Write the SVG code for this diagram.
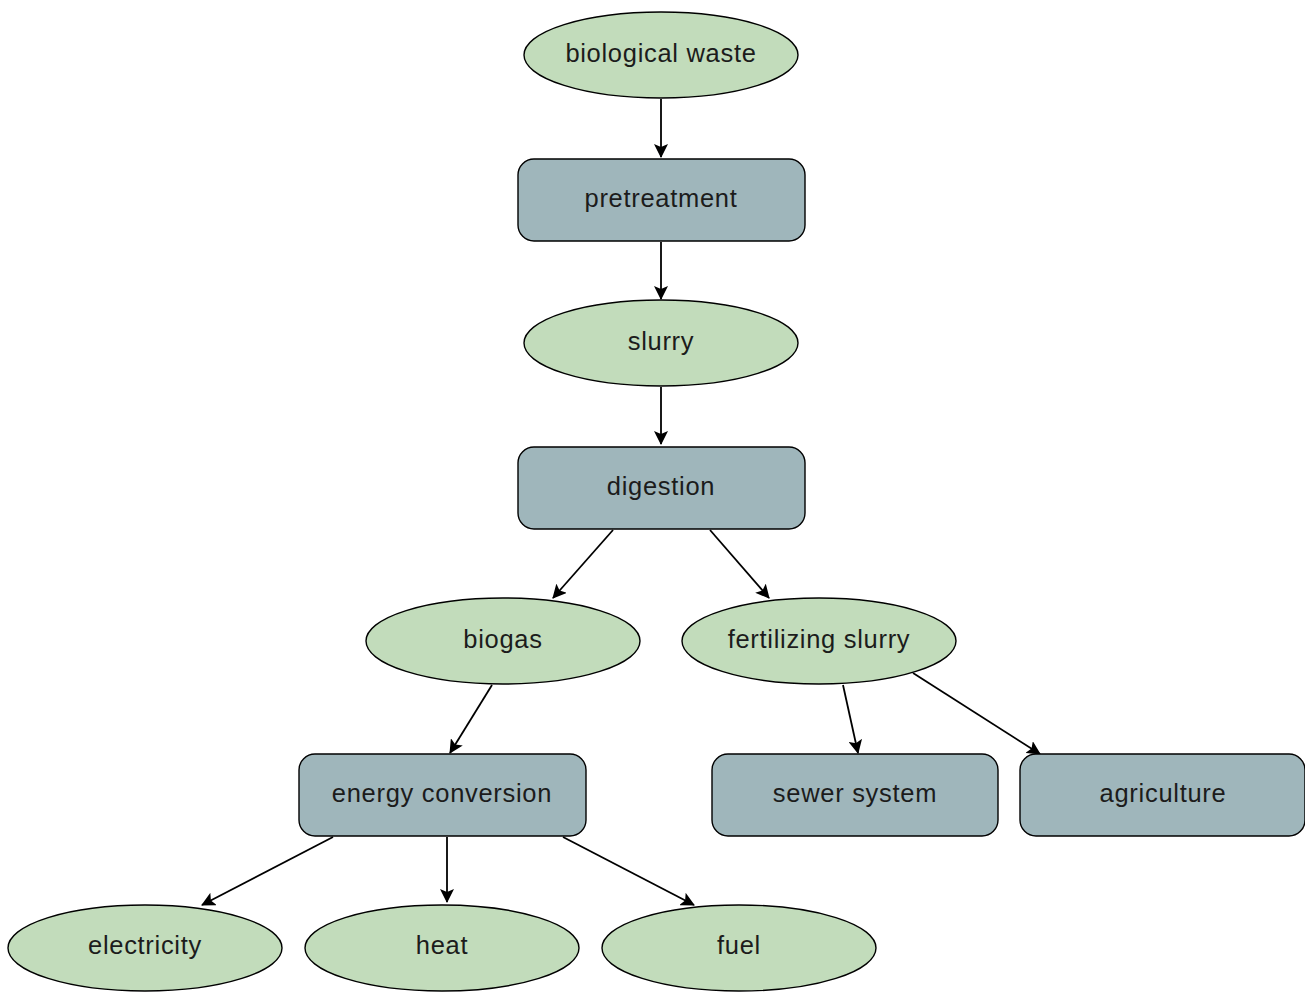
<svg xmlns="http://www.w3.org/2000/svg" width="1305" height="992" viewBox="0 0 1305 992">
  <style>
    .oval { fill: #c2dcbb; stroke: #000; stroke-width: 1.4; }
    .box { fill: #9fb6bb; stroke: #000; stroke-width: 1.4; }
    .label { font-family: "Liberation Sans", Arial, sans-serif; font-size: 25.5px; letter-spacing: 0.7px; fill: #1c1c1c; text-anchor: middle; dominant-baseline: central; }
    .edge { stroke: #000; stroke-width: 1.8; fill: none; marker-end: url(#arrow); }
  </style>
  <defs>
    <marker id="arrow" viewBox="0 0 14 14" refX="13" refY="7" markerWidth="14" markerHeight="14" markerUnits="userSpaceOnUse" orient="auto">
      <path d="M0,0 L14,7 L0,14 L3,7 Z" fill="#000"/>
    </marker>
  </defs>

  <rect width="1305" height="992" fill="#fff"/>

  <!-- connectors -->
  <g id="connectors">
    <line class="edge" x1="661" y1="99" x2="661" y2="157"/>
    <line class="edge" x1="661" y1="242" x2="661" y2="299"/>
    <line class="edge" x1="661" y1="387" x2="661" y2="444"/>
    <line class="edge" x1="613" y1="530" x2="553" y2="598"/>
    <line class="edge" x1="710" y1="530" x2="769" y2="598"/>
    <line class="edge" x1="492" y1="685" x2="450" y2="753"/>
    <line class="edge" x1="843" y1="685" x2="858" y2="753"/>
    <line class="edge" x1="913" y1="673" x2="1040" y2="754"/>
    <line class="edge" x1="333" y1="837" x2="202" y2="905"/>
    <line class="edge" x1="447" y1="837" x2="447" y2="902"/>
    <line class="edge" x1="563" y1="837" x2="694" y2="905"/>
  </g>

  <g id="biological-waste">
    <ellipse class="oval" cx="661" cy="55" rx="137" ry="43"/>
    <text class="label" x="661" y="53">biological waste</text>
  </g>
  <g id="pretreatment">
    <rect class="box" x="518" y="159" width="287" height="82" rx="16"/>
    <text class="label" x="661" y="198">pretreatment</text>
  </g>
  <g id="slurry">
    <ellipse class="oval" cx="661" cy="343" rx="137" ry="43"/>
    <text class="label" x="661" y="341">slurry</text>
  </g>
  <g id="digestion">
    <rect class="box" x="518" y="447" width="287" height="82" rx="16"/>
    <text class="label" x="661" y="486">digestion</text>
  </g>
  <g id="biogas">
    <ellipse class="oval" cx="503" cy="641" rx="137" ry="43"/>
    <text class="label" x="503" y="639">biogas</text>
  </g>
  <g id="fertilizing-slurry">
    <ellipse class="oval" cx="819" cy="641" rx="137" ry="43"/>
    <text class="label" x="819" y="639">fertilizing slurry</text>
  </g>
  <g id="energy-conversion">
    <rect class="box" x="299" y="754" width="287" height="82" rx="16"/>
    <text class="label" x="442" y="793">energy conversion</text>
  </g>
  <g id="sewer-system">
    <rect class="box" x="712" y="754" width="286" height="82" rx="16"/>
    <text class="label" x="855" y="793">sewer system</text>
  </g>
  <g id="agriculture">
    <rect class="box" x="1020" y="754" width="285" height="82" rx="16"/>
    <text class="label" x="1163" y="793">agriculture</text>
  </g>
  <g id="electricity">
    <ellipse class="oval" cx="145" cy="948" rx="137" ry="43"/>
    <text class="label" x="145" y="945">electricity</text>
  </g>
  <g id="heat">
    <ellipse class="oval" cx="442" cy="948" rx="137" ry="43"/>
    <text class="label" x="442" y="945">heat</text>
  </g>
  <g id="fuel">
    <ellipse class="oval" cx="739" cy="948" rx="137" ry="43"/>
    <text class="label" x="739" y="945">fuel</text>
  </g>
</svg>
